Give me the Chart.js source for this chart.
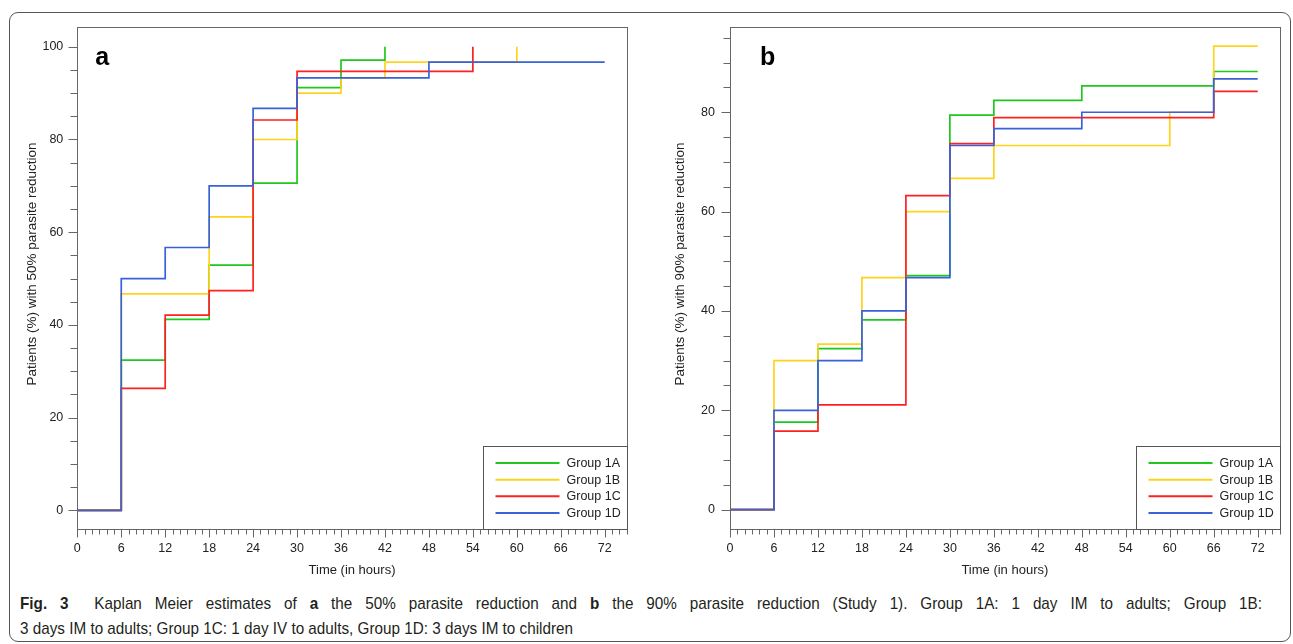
<!DOCTYPE html>
<html>
<head>
<meta charset="utf-8">
<script src="https://cdn.jsdelivr.net/npm/chart.js@4.4.0/dist/chart.umd.min.js"></script>
<style>
  body { margin: 0; width: 1293px; height: 644px; background: #fff; position: relative; overflow: hidden; font-family: Arial, "Liberation Sans", sans-serif; }
  #frame { position: absolute; left: 9px; top: 12px; width: 1282px; height: 630px; box-sizing: border-box; border: 1px solid #555; border-radius: 9px; }
  #wa { position: absolute; left: 0; top: 0; }
  #wb { position: absolute; left: 650px; top: 0; }
  #cap { position: absolute; left: 20px; top: 591px; font-family: "Liberation Sans", Arial, sans-serif; font-size: 17px; line-height: 25px; color: #231f20; white-space: nowrap; transform-origin: 0 0; }
  #cap1 { text-align: justify; text-align-last: justify; white-space: normal; }
  #cap2 { display: inline-block; }
</style>
</head>
<body>
<div id="frame"></div>
<canvas id="wa" width="650" height="590"></canvas>
<canvas id="wb" width="643" height="590"></canvas>
<div id="cap"><div id="cap1"><b>Fig. 3</b>&nbsp; Kaplan Meier estimates of <b>a</b> the 50% parasite reduction and <b>b</b> the 90% parasite reduction (Study 1). Group 1A: 1 day IM to adults; Group 1B:</div><span id="cap2">3 days IM to adults; Group 1C: 1 day IV to adults, Group 1D: 3 days IM to children</span></div>
<script>
// groups and colours
const groups = ['Group 1A', 'Group 1B', 'Group 1C', 'Group 1D'];
const colors = ['#1ec81e', '#ffd21c', '#ff2020', '#3a62d8'];

// panel a: 50% parasite reduction (time in hours, % of patients)
const timeA1 = [0, 6, 12, 18, 24, 30, 36, 42];
const pctA1 = [0, 32.4, 41.2, 52.9, 70.6, 91.2, 97.1, 100];
const timeA2 = [0, 6, 18, 24, 30, 36, 42, 60];
const pctA2 = [0, 46.7, 63.3, 80, 90, 93.3, 96.7, 100];
const timeA3 = [0, 6, 12, 18, 24, 30, 54];
const pctA3 = [0, 26.3, 42.1, 47.4, 84.2, 94.7, 100];
const timeA4 = [0, 6, 12, 18, 24, 30, 48, 72];
const pctA4 = [0, 50, 56.7, 70, 86.7, 93.3, 96.7, 96.7];

// panel b: 90% parasite reduction
const timeB1 = [0, 6, 12, 18, 24, 30, 36, 48, 66, 72];
const pctB1 = [0, 17.6, 32.4, 38.2, 47.1, 79.4, 82.4, 85.3, 88.2, 88.2];
const timeB2 = [0, 6, 12, 18, 24, 30, 36, 60, 66, 72];
const pctB2 = [0, 30, 33.3, 46.7, 60, 66.7, 73.3, 80, 93.3, 93.3];
const timeB3 = [0, 6, 12, 24, 30, 36, 66, 72];
const pctB3 = [0, 15.8, 21.1, 63.2, 73.7, 78.9, 84.2, 84.2];
const timeB4 = [0, 6, 12, 18, 24, 30, 36, 48, 66, 72];
const pctB4 = [0, 20, 30, 40, 46.7, 73.3, 76.7, 80, 86.7, 86.7];

const xTitle = 'Time (in hours)';
const xTickLabels = [0, 6, 12, 18, 24, 30, 36, 42, 48, 54, 60, 66, 72];
const yTickLabels = [0, 20, 40, 60, 80, 100];

const axisColor = '#666';
const textColor = '#222';
const FONT = 'Arial, "Liberation Sans", sans-serif';

function pts(times, vals) {
  return times.map((t, i) => ({ x: t, y: vals[i] }));
}

// frame, tick marks, y title, legend box and panel letter
const framePlugin = {
  id: 'frame',
  afterDraw(chart, args, opts) {
    const { ctx, chartArea: a, scales: { x, y } } = chart;
    ctx.save();
    ctx.strokeStyle = axisColor;
    ctx.lineWidth = 1;
    const L = Math.round(a.left) + 0.5, R = Math.round(a.right) + 0.5;
    const T = Math.round(a.top) + 0.5, B = Math.round(a.bottom) + 0.5;
    ctx.strokeRect(L, T, R - L, B - T);

    ctx.beginPath();
    x.ticks.forEach(t => {
      const px = Math.round(x.getPixelForValue(t.value)) + 0.5;
      const len = t.value % 6 === 0 ? 8 : 5;
      ctx.moveTo(px, B); ctx.lineTo(px, B + len);
    });
    y.ticks.forEach(t => {
      const py = Math.round(y.getPixelForValue(t.value)) + 0.5;
      const len = t.value % 20 === 0 ? 9 : 7;
      ctx.moveTo(L, py); ctx.lineTo(L - len, py);
    });
    ctx.stroke();

    // y axis title
    ctx.save();
    ctx.translate(opts.titleX, opts.titleY);
    ctx.rotate(-Math.PI / 2);
    ctx.fillStyle = textColor;
    ctx.font = '13.5px ' + FONT;
    ctx.textAlign = 'center';
    ctx.textBaseline = 'middle';
    ctx.fillText(opts.yTitle, 0, 0);
    ctx.restore();

    // legend inside the plot, bottom right
    const bw = 144, bh = 83;
    const bx = Math.round(a.right - bw) + 0.5, by = Math.round(a.bottom - bh) + 0.5;
    ctx.fillStyle = '#fff';
    ctx.fillRect(bx, by, bw, bh);
    ctx.strokeStyle = '#555';
    ctx.strokeRect(bx, by, R - bx, B - by);
    ctx.font = '12.5px ' + FONT;
    ctx.textBaseline = 'middle';
    chart.data.datasets.forEach((ds, i) => {
      const ry = by + 16.6 * (i + 1);
      ctx.strokeStyle = ds.borderColor;
      ctx.lineWidth = 2;
      ctx.beginPath();
      ctx.moveTo(bx + 12, ry); ctx.lineTo(bx + 76, ry);
      ctx.stroke();
      ctx.fillStyle = textColor;
      ctx.fillText(ds.label, bx + 83, ry + 0.5);
    });

    ctx.fillStyle = '#000';
    ctx.font = 'bold 25px ' + FONT;
    ctx.textBaseline = 'alphabetic';
    ctx.fillText(opts.letter, a.left + opts.letterDx, 65);
    ctx.restore();
  }
};

function makeChart(id, series, geo) {
  new Chart(document.getElementById(id), {
    type: 'line',
    data: {
      datasets: series.map((s, i) => ({
        label: groups[i],
        data: pts(s[0], s[1]),
        borderColor: colors[i],
        borderWidth: 1.7,
        stepped: 'before',
        pointRadius: 0,
        fill: false,
        order: 4 - i
      }))
    },
    options: {
      responsive: false,
      animation: false,
      layout: { padding: { top: 27.3, right: geo.right, left: 0, bottom: 0 } },
      plugins: {
        legend: { display: false },
        tooltip: { enabled: false },
        frame: { letter: geo.letter, letterDx: geo.letterDx, yTitle: geo.yTitle, titleX: geo.titleX, titleY: 264 }
      },
      scales: {
        x: {
          type: 'linear', min: 0, max: 75,
          afterFit: s => { s.height = 61; },
          grid: { display: false, drawTicks: false },
          border: { display: false },
          ticks: {
            stepSize: 1, autoSkip: false, maxRotation: 0, minRotation: 0, padding: 12,
            callback: v => xTickLabels.includes(v) ? String(v) : '',
            color: textColor, font: { family: FONT, size: 12.5 }
          },
          title: {
            display: true, text: xTitle, color: textColor, padding: { top: 0, bottom: 12 },
            font: { family: FONT, size: 13 }
          }
        },
        y: {
          type: 'linear', min: geo.yMin, max: geo.yMax,
          afterFit: s => { s.width = geo.yw; },
          grid: { display: false, drawTicks: false },
          border: { display: false },
          ticks: {
            stepSize: 5, autoSkip: false, includeBounds: false, padding: geo.ypad,
            callback: v => yTickLabels.includes(v) ? String(v) : '',
            color: textColor, font: { family: FONT, size: 12.5 }
          }
        }
      }
    },
    plugins: [framePlugin]
  });
}

makeChart('wa', [[timeA1, pctA1], [timeA2, pctA2], [timeA3, pctA3], [timeA4, pctA4]], {
  right: 650 - 626.7, yw: 77.3, yMin: -4.03, yMax: 104.2, ypad: 14, titleX: 32,
  yTitle: 'Patients (%) with 50% parasite reduction', letter: 'a', letterDx: 18
});
makeChart('wb', [[timeB1, pctB1], [timeB2, pctB2], [timeB3, pctB3], [timeB4, pctB4]], {
  right: 643 - 629.7, yw: 80, yMin: -3.9, yMax: 97.1, ypad: 15, titleX: 30,
  yTitle: 'Patients (%) with 90% parasite reduction', letter: 'b', letterDx: 30
});

// caption: line 1 justified to full width, slightly condensed type
const cap = document.getElementById('cap');
const w2 = document.getElementById('cap2').getBoundingClientRect().width;
const k = 553 / w2;
cap.style.transform = 'scaleX(' + k + ')';
document.getElementById('cap1').style.width = (1242 / k) + 'px';
</script>
</body>
</html>
